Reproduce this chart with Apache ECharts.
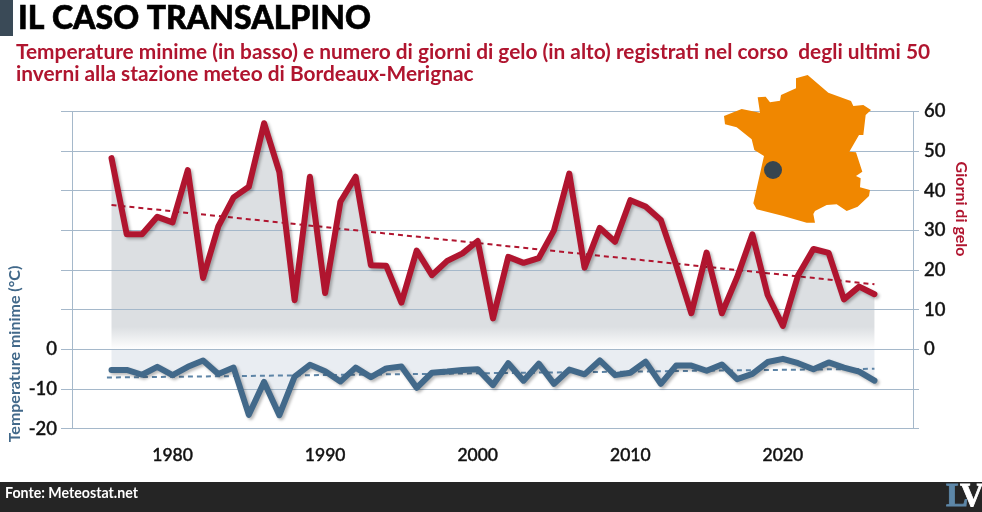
<!DOCTYPE html>
<html>
<head>
<meta charset="utf-8">
<style>
  html, body { margin: 0; padding: 0; background: #fff; }
  #chart { width: 982px; height: 512px; }
</style>
<script src="https://cdn.jsdelivr.net/npm/echarts@6/dist/echarts.min.js"></script>
</head>
<body>
<div id="chart"></div>
<script>
// Winter series for Bordeaux-Merignac, one value per year
const years = [1976,1977,1978,1979,1980,1981,1982,1983,1984,1985,1986,1987,1988,1989,1990,1991,1992,1993,1994,1995,1996,1997,1998,1999,2000,2001,2002,2003,2004,2005,2006,2007,2008,2009,2010,2011,2012,2013,2014,2015,2016,2017,2018,2019,2020,2021,2022,2023,2024,2025,2026];
const frostDays = [48.2,29,29,33.4,32,45.2,18,31,38.3,41,57,44.7,12.4,43.5,14.2,37.2,43.5,21.2,21.1,11.8,24.9,18.7,22.3,24.2,27.3,7.8,23.3,21.8,23,30,44.3,20.6,30.6,27.1,37.6,36,32.6,21.3,9.1,24.4,9.1,18.2,29,13.7,5.9,18.7,25.3,24.3,12.6,15.8,13.9];
const minTemps = [-5.2,-5.2,-6.4,-4.4,-6.5,-4.4,-2.8,-6.2,-4.6,-16.5,-8.2,-16.6,-6.9,-3.9,-5.5,-8.1,-4.6,-7,-4.8,-4.3,-9.7,-5.9,-5.6,-5.2,-5,-9,-3.5,-7.9,-3.6,-8.7,-5.1,-6.3,-2.8,-6.5,-5.9,-3.1,-8.7,-4.1,-4.1,-5.4,-3.8,-7.5,-6.2,-3.2,-2.4,-3.5,-5,-3.3,-4.6,-5.6,-7.9];
const frostTrend = [[1976,36.4],[2026,16.4]];
const tempTrend = [[1975.7,-7.1],[2026,-4.9]];
const yearTicks = [1980,1990,2000,2010,2020];
const leftTickLabels = [0,-10,-20];
const rightTickLabels = [0,10,20,30,40,50,60];
const frameYears = [1973.41,2028.55];

const titleText = 'IL CASO TRANSALPINO';
const subtitleLines = [
  'Temperature minime (in basso) e numero di giorni di gelo (in alto) registrati nel corso  degli ultimi 50',
  'inverni alla stazione meteo di Bordeaux-Merignac'
];
const sourceText = 'Fonte: Meteostat.net';
const leftAxisTitle = 'Temperature minime (°C)';
const rightAxisTitle = 'Giorni di gelo';

// Outline of France for the locator inset, in local units scaled down by the group
const franceOutline = [[243,25],[278,15],[340,68],[408,93],[415,108],[445,105],[468,120],[452,135],[445,195],[432,195],[403,245],[423,247],[442,305],[423,318],[437,325],[435,352],[465,360],[462,378],[428,410],[395,423],[365,403],[335,405],[300,423],[295,432],[300,458],[275,458],[205,438],[125,418],[115,400],[147,258],[118,240],[110,208],[65,172],[30,163],[27,138],[80,117],[135,128],[128,82],[152,80],[165,97],[195,92],[198,75],[243,55]];

const RED = '#b0152f';
const BLUE = '#42698a';
const GRID = '#a5b8ca';
const FONT = 'Lato';

const pairs = (xs, ys) => xs.map((x, i) => [x, ys[i]]);

const chart = echarts.init(document.getElementById('chart'), null, { renderer: 'canvas' });

const lineShadow = { shadowColor: 'rgba(0,0,0,0.28)', shadowBlur: 3, shadowOffsetX: 2, shadowOffsetY: 2 };
const tickText = { color: '#111', fontFamily: FONT, fontWeight: 500, textBorderColor: '#111', textBorderWidth: 0.4 };

chart.setOption({
  animation: false,
  backgroundColor: '#fff',
  grid: { left: 61, right: 63, top: 111.3, height: 317.4, containLabel: false },
  xAxis: {
    type: 'value', min: 1972.69, max: 2028.92, z: 2,
    axisLine: { show: false },
    axisTick: { show: false },
    axisLabel: Object.assign({}, tickText, {
      show: true, fontSize: 17.5, margin: 18,
      customValues: yearTicks, showMinLabel: true, showMaxLabel: true,
      formatter: v => String(v)
    }),
    splitLine: { show: false }
  },
  yAxis: [
    {
      type: 'value', min: -20, max: 60, interval: 10, position: 'left', z: 2,
      axisLine: { show: false }, axisTick: { show: false },
      axisLabel: Object.assign({}, tickText, {
        fontSize: 18.5, margin: 4, verticalAlign: 'middle',
        padding: [0, 0, 4, 0],
        formatter: v => leftTickLabels.includes(v) ? String(v) : ''
      }),
      splitLine: { show: true, lineStyle: { color: GRID, width: 1 } }
    },
    {
      type: 'value', min: -20, max: 60, interval: 10, position: 'right', z: 2,
      axisLine: { show: false }, axisTick: { show: false },
      axisLabel: Object.assign({}, tickText, {
        fontSize: 18.5, margin: 5, verticalAlign: 'middle',
        padding: [0, 0, 4, 0],
        formatter: v => rightTickLabels.includes(v) ? String(v) : ''
      }),
      splitLine: { show: false }
    }
  ],
  series: [
    // Shaded bands sit under the grid lines; the strokes go on top
    {
      type: 'line', data: pairs(years, frostDays), symbol: 'none', z: 1, silent: true,
      lineStyle: { width: 0 },
      areaStyle: {
        origin: 0, opacity: 1,
        color: new echarts.graphic.LinearGradient(0, 112, 0, 349.5, [
          { offset: 0, color: '#dcdfe2' },
          { offset: 0.905, color: '#dcdfe2' },
          { offset: 1, color: '#ffffff' }
        ], true)
      }
    },
    {
      type: 'line', data: pairs(years, minTemps), symbol: 'none', z: 1, silent: true,
      lineStyle: { width: 0 },
      areaStyle: { origin: 0, opacity: 1, color: '#e9edf2' }
    },
    // Vertical frame lines and year rules, drawn through the plot
    {
      type: 'line', data: [], symbol: 'none', z: 2, silent: true,
      markLine: {
        silent: true, symbol: 'none', label: { show: false }, animation: false,
        lineStyle: { color: GRID, width: 1, type: 'solid' },
        data: frameYears.map(x => [{ coord: [x, 60] }, { coord: [x, -20] }])
          .concat(yearTicks.map(x => [{ coord: [x, 60.5] }, { coord: [x, -24.5] }]))
      }
    },
    {
      type: 'line', data: frostTrend, symbol: 'none', z: 3,
      lineStyle: { color: RED, width: 2, type: [5, 4] }
    },
    {
      type: 'line', data: tempTrend, symbol: 'none', z: 3,
      lineStyle: { color: '#5d84a6', width: 2, type: [5, 4] }
    },
    {
      type: 'line', data: pairs(years, frostDays), symbol: 'none', z: 4,
      lineStyle: Object.assign({ color: RED, width: 6, cap: 'round', join: 'round' }, lineShadow)
    },
    {
      type: 'line', data: pairs(years, minTemps), symbol: 'none', z: 4,
      lineStyle: Object.assign({ color: BLUE, width: 6, cap: 'round', join: 'round' }, lineShadow)
    }
  ],
  graphic: [
    { type: 'rect', z: 10, shape: { x: 0, y: 0, width: 13, height: 36 }, style: { fill: '#3a4a57' } },
    { type: 'text', z: 10, x: 18, y: 3, style: { text: titleText, fill: '#000', stroke: '#000', lineWidth: 0.6, font: '900 32px ' + FONT } },
    { type: 'text', z: 10, x: 16, y: 42, style: { text: subtitleLines[0], fill: RED, font: 'bold 20.85px ' + FONT } },
    { type: 'text', z: 10, x: 16, y: 64, style: { text: subtitleLines[1], fill: RED, font: 'bold 20.85px ' + FONT } },
    {
      type: 'text', z: 10, x: 15, y: 354, rotation: Math.PI / 2,
      style: { text: leftAxisTitle, fill: BLUE, font: 'bold 16px ' + FONT, align: 'center', verticalAlign: 'middle' }
    },
    {
      type: 'text', z: 10, x: 961, y: 209, rotation: -Math.PI / 2,
      style: { text: rightAxisTitle, fill: RED, font: 'bold 16px ' + FONT, align: 'center', verticalAlign: 'middle' }
    },
    {
      type: 'group', z: 10, x: 715, y: 70, scaleX: 1 / 3, scaleY: 1 / 3,
      children: [
        { type: 'polygon', z: 10, shape: { points: franceOutline }, style: { fill: '#f08700' } },
        { type: 'circle', z: 11, shape: { cx: 174, cy: 300, r: 27 }, style: { fill: '#36454f' } }
      ]
    },
    { type: 'rect', z: 10, shape: { x: 0, y: 482, width: 982, height: 30 }, style: { fill: '#252525' } },
    { type: 'text', z: 11, x: 5, y: 486, style: { text: sourceText, fill: '#fff', font: 'bold 14.2px ' + FONT } },
    { type: 'text', z: 11, x: 946, y: 481, style: { text: 'L', fill: '#5d87a8', stroke: '#5d87a8', lineWidth: 0.8, font: 'bold 33px "Liberation Serif"' } },
    { type: 'text', z: 11, x: 960, y: 481, style: { text: 'V', fill: '#fff', stroke: '#fff', lineWidth: 0.8, font: 'bold 33px "Liberation Serif"' } }
  ]
});
</script>
</body>
</html>
